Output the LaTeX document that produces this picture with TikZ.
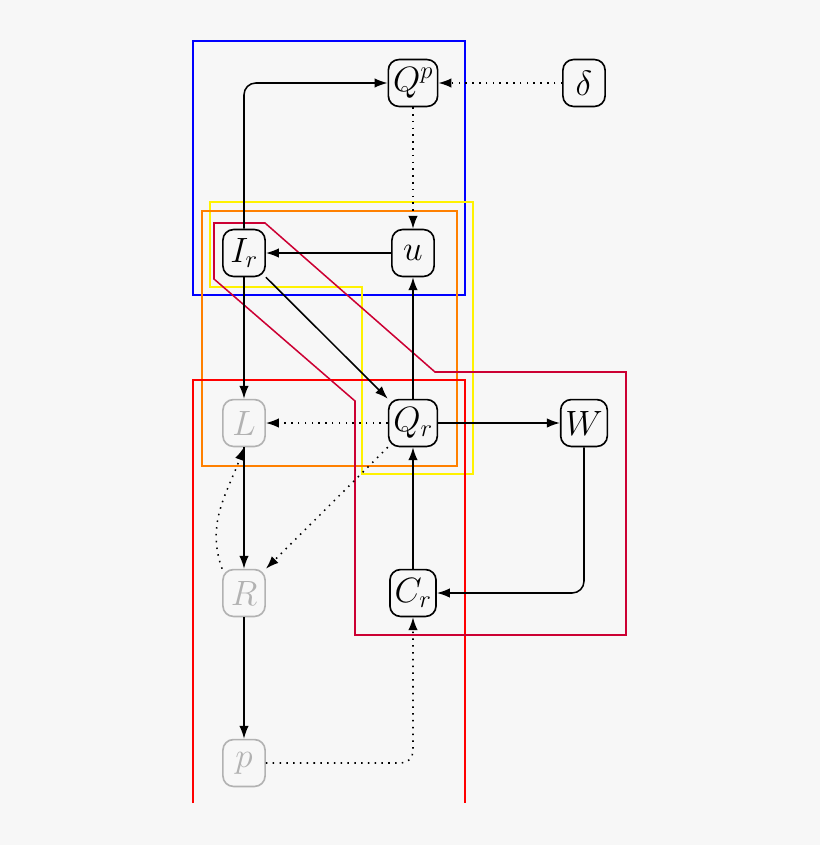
\RequirePackage{fix-cm}
\documentclass[tikz,border=0pt]{standalone}
\usetikzlibrary{arrows.meta}
\tikzset{
  var/.style={draw, line width=1.4pt, rounded corners=9pt, minimum height=40pt, minimum width=36pt,
    inner sep=4pt, font=\fontsize{30}{36}\selectfont},
  faded/.style={var, draw=gray!60, text=gray!60},
  link/.style={-{Latex[length=11pt,width=8pt]}, line width=1.3pt},
  weak/.style={link, dash pattern=on 1.3pt off 4.5pt},
  group/.style={line width=1.3pt}
}
\begin{document}
\begin{tikzpicture}[x=0.03cm, y=-0.03cm]
  \fill[gray!6] (0,0) rectangle (820,845);
  \useasboundingbox (0,0) rectangle (820,845);

  % groups
  \draw[group, blue] (193,41) rectangle (465,295);
  \draw[group, yellow] (210,202) -- (473,202) -- (473,474) -- (362,474) -- (362,287) -- (210,287) -- cycle;
  \draw[group, orange] (202,211) rectangle (457,466);
  \draw[group, red] (193,803) -- (193,380) -- (465,380) -- (465,803);
  \draw[group, purple!80!red] (214,223) -- (265,223) -- (435,372) -- (626,372) -- (626,635)
    -- (355,635) -- (355,401) -- (214,279) -- cycle;

  % variables
  \node[var] (Qp) at (413,83) {$Q^p$};
  \node[var] (delta) at (584,83) {$\delta$};
  \node[var] (Ir) at (244,253) {$I_r$};
  \node[var] (u) at (413,253) {$u$};
  \node[faded] (L) at (244,423) {$L$};
  \node[var] (Qr) at (413,423) {$Q_r$};
  \node[var] (W) at (584,423) {$W$};
  \node[faded] (R) at (244,593) {$R$};
  \node[var] (Cr) at (413,593) {$C_r$};
  \node[faded] (p) at (244,763) {$p$};

  % links
  \draw[link, rounded corners=10pt] (Ir.north) |- (Qp.west);
  \draw[weak] (delta) -- (Qp);
  \draw[weak] (Qp) -- (u);
  \draw[link] (u) -- (Ir);
  \draw[link] (Ir.south east) -- (Qr.north west);
  \draw[link] (Qr) -- (u);
  \draw[link] (Ir) -- (L);
  \draw[weak] (Qr) -- (L);
  \draw[link] (Qr) -- (W);
  \draw[link, rounded corners=10pt] (W.south) |- (Cr.east);
  \draw[link] (Cr) -- (Qr);
  \draw[link] (L) -- (R);
  \draw[weak] (R.north west) to[out=110, in=250] (L.south);
  \draw[weak] (Qr.south west) -- (R.north east);
  \draw[link] (R) -- (p);
  \draw[weak, rounded corners=10pt] (p.east) -| (Cr.south);
\end{tikzpicture}
\end{document}
